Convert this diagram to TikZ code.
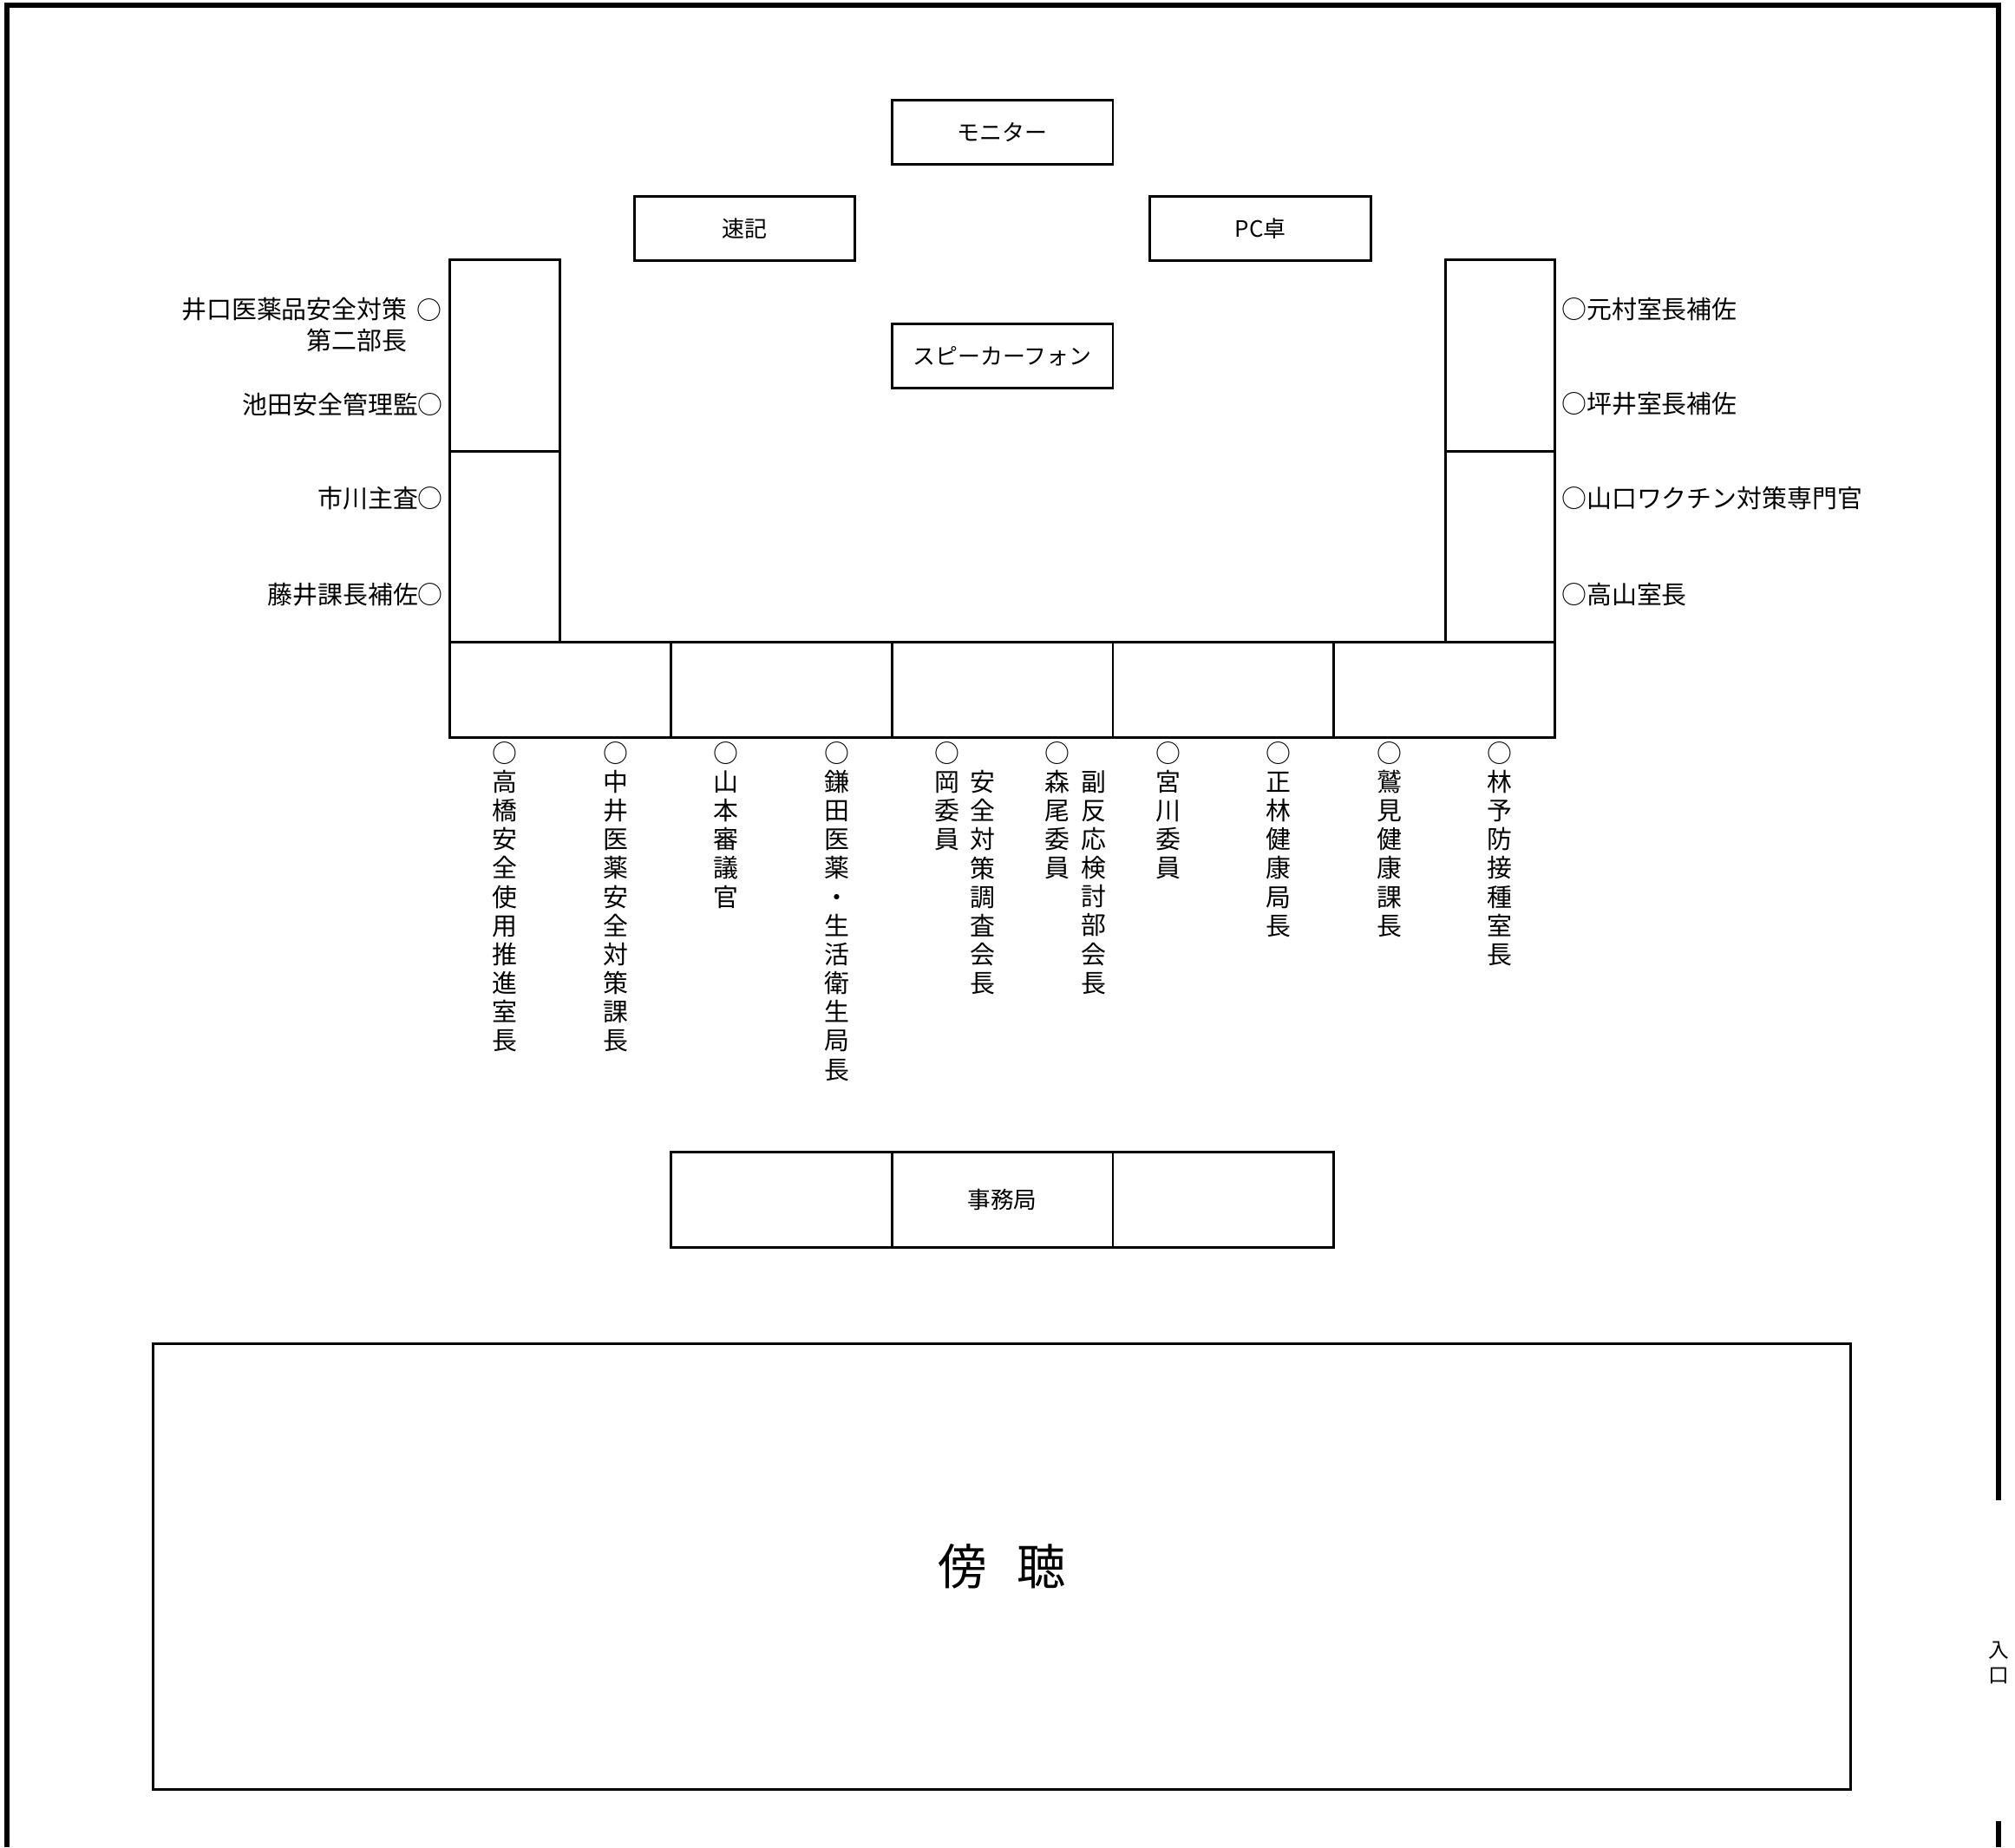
\documentclass[tikz,border=0pt]{standalone}
\usepackage{fontspec}
\setmainfont{Noto Sans CJK JP}
\begin{document}
\begin{tikzpicture}[x=1pt,y=-1pt,
  tbl/.style={draw, line width=2pt, line join=miter},
  wall/.style={draw, line width=4pt, line join=miter},
  lbl/.style={inner sep=0pt, font=\fontsize{19.5}{22.4}\selectfont},
  vlbl/.style={lbl, anchor=north, align=center},
  boxlbl/.style={draw, line width=2pt, minimum width=172pt, minimum height=50pt, inner sep=0pt, font=\fontsize{17.5}{20}\selectfont}]
\useasboundingbox (0,0) rectangle (1568,1437.8);
% walls
\coordinate (w1) at (1555.2,1168);
\coordinate (w2) at (1555.2,4);
\coordinate (w3) at (5.4,4);
\coordinate (w4) at (5.4,1437.8);
\coordinate (w5) at (1555.2,1417.5);
\coordinate (w6) at (1555.2,1437.8);
\draw[wall] (w1) -- (w2) -- (w3) -- (w4);
\draw[wall] (w5) -- (w6);
\node[inner sep=0pt, align=center, font=\fontsize{16}{19.5}\selectfont] (entr) at (1555.2,1294) {入\\口};
% front boxes
\node[boxlbl] (monitor) at (780,103) {モニター};
\node[boxlbl] (sokki) at (579.5,178) {速記};
\node[boxlbl] (pc) at (981,178) {PC卓};
\node[boxlbl] (spk) at (780,277) {スピーカーフォン};
% side tables
\draw[tbl] (350,202) rectangle (436,351);
\draw[tbl] (350,351) rectangle (436,500);
\draw[tbl] (1125,202) rectangle (1210,351);
\draw[tbl] (1125,351) rectangle (1210,500);
% front row tables
\foreach \i in {0,...,4}{
  \draw[tbl] (350+172*\i,500) rectangle (522+172*\i,574);
}
% secretariat
\draw[tbl] (522,897) rectangle (694,971);
\draw[tbl] (866,897) rectangle (1038,971);
\node[tbl, minimum width=172pt, minimum height=74pt, inner sep=0pt, font=\fontsize{18}{20}\selectfont] (jimu) at (780,934) {事務局};
% audience
\node[tbl, minimum width=1320.6pt, minimum height=346.6pt, inner sep=0pt, font=\fontsize{38}{40}\selectfont] (bocho) at (779.7,1219.3) {傍\hspace{0.6em}聴};
% left labels
\node[lbl, anchor=east] (l1a) at (317,241) {井口医薬品安全対策};
\node[lbl, anchor=east] (l1c) at (344,241) {○};
\node[lbl, anchor=east] (l1b) at (317,265) {第二部長};
\node[lbl, anchor=east] (l2) at (345,315) {池田安全管理監○};
\node[lbl, anchor=east] (l3) at (345,388) {市川主査○};
\node[lbl, anchor=east] (l4) at (345,462.5) {藤井課長補佐○};
% right labels
\node[lbl, anchor=west] (r1) at (1215,241) {○元村室長補佐};
\node[lbl, anchor=west] (r2) at (1215,314) {○坪井室長補佐};
\node[lbl, anchor=west] (r3) at (1215,388) {○山口ワクチン対策専門官};
\node[lbl, anchor=west] (r4) at (1215,462.5) {○高山室長};
% front row labels
\node[vlbl] (b1) at (393,577) {○\\高\\橋\\安\\全\\使\\用\\推\\進\\室\\長};
\node[vlbl] (b2) at (479,577) {○\\中\\井\\医\\薬\\安\\全\\対\\策\\課\\長};
\node[vlbl] (b3) at (565,577) {○\\山\\本\\審\\議\\官};
\node[vlbl] (b4) at (651,577) {○\\鎌\\田\\医\\薬\\・\\生\\活\\衛\\生\\局\\長};
\node[vlbl] (b5) at (737,577) {○\\岡\\委\\員};
\node[vlbl] (b5t) at (765,599.4) {安\\全\\対\\策\\調\\査\\会\\長};
\node[vlbl] (b6) at (823,577) {○\\森\\尾\\委\\員};
\node[vlbl] (b6t) at (851,599.4) {副\\反\\応\\検\\討\\部\\会\\長};
\node[vlbl] (b7) at (909,577) {○\\宮\\川\\委\\員};
\node[vlbl] (b8) at (995,577) {○\\正\\林\\健\\康\\局\\長};
\node[vlbl] (b9) at (1081,577) {○\\鷲\\見\\健\\康\\課\\長};
\node[vlbl] (b10) at (1167,577) {○\\林\\予\\防\\接\\種\\室\\長};
\end{tikzpicture}
\end{document}
